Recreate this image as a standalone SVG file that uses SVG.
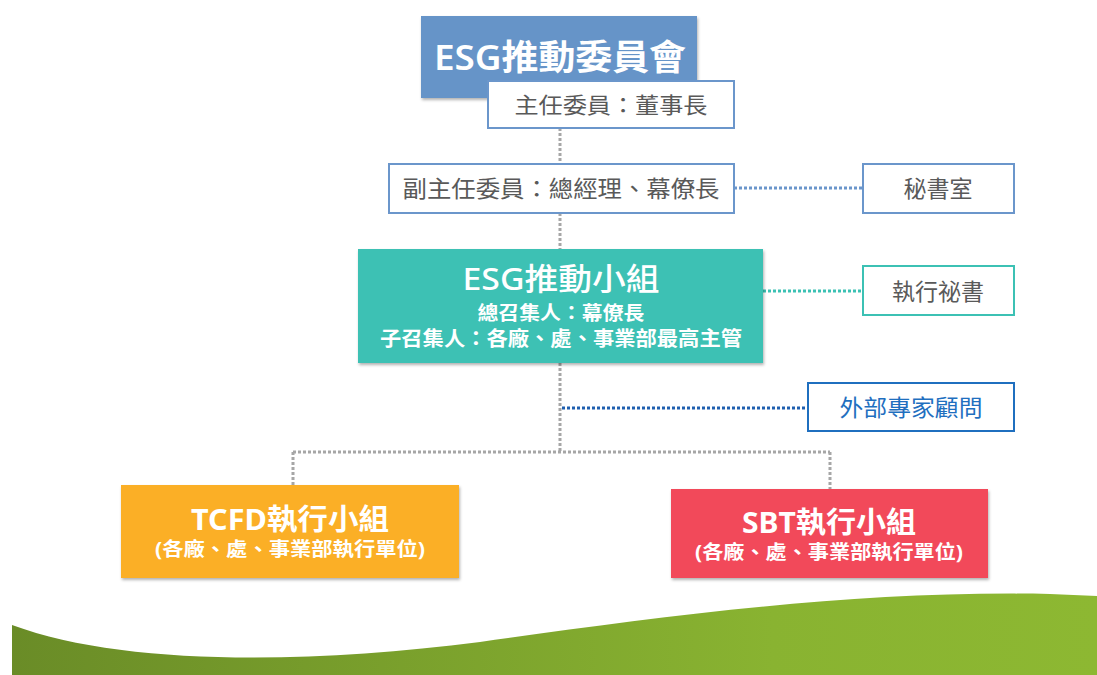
<svg xmlns="http://www.w3.org/2000/svg" width="1097" height="675" viewBox="0 0 1097 675">
<style>
text{font-family:"Noto Sans","Noto Sans CJK TC",sans-serif;text-anchor:middle}
.w{fill:#fff}
.g{fill:#595959}
.bold{font-weight:bold}
.conn{fill:none;stroke-width:3;stroke-dasharray:3 2}
.gray{stroke:#A6A6A6}
</style>
<defs>
<filter id="sh" x="-10%" y="-10%" width="120%" height="130%">
<feDropShadow dx="1" dy="2" stdDeviation="1.5" flood-color="#000" flood-opacity="0.3"/>
</filter>
<linearGradient id="gr" x1="0" y1="0" x2="1" y2="0">
<stop offset="0" stop-color="#6A8C27"/>
<stop offset="0.7" stop-color="#89B331"/>
<stop offset="1" stop-color="#8DB832"/>
</linearGradient>
</defs>
<path d="M12,625 C120,665 300,665 480,642 C650,618 850,590 1050,594 L1097,596 L1097,675 L12,675 Z" fill="url(#gr)"/>
<g id="connectors">
<path class="conn gray" d="M560,128 V163 M560,213 V249 M560,363 V452 M293,452 H830 M293,452 V485 M830,452 V489"/>
<path class="conn" stroke="#6B96CB" d="M734,188 H862"/>
<path class="conn" stroke="#3CC1B4" d="M763,291 H862"/>
<path class="conn" stroke="#1F5FAF" d="M562,408 H807"/>
</g>
<g id="committee">
<rect x="421" y="16" width="276" height="82" fill="#6694C8" filter="url(#sh)"/>
<text x="560" y="70" class="w" font-weight="600" font-size="35" textLength="252" lengthAdjust="spacingAndGlyphs">ESG推動委員會</text>
</g>
<g id="chair">
<rect x="488" y="81" width="246" height="47" fill="#fff" stroke="#6B96CB" stroke-width="2"/>
<text x="611" y="113" class="g" font-size="22" textLength="193" lengthAdjust="spacingAndGlyphs">主任委員：董事長</text>
</g>
<g id="vicechair">
<rect x="389" y="164" width="345" height="49" fill="#fff" stroke="#6B96CB" stroke-width="2"/>
<text x="561" y="197" class="g" font-size="23" textLength="317" lengthAdjust="spacingAndGlyphs">副主任委員：總經理、幕僚長</text>
</g>
<g id="secretariat">
<rect x="863" y="164" width="151" height="49" fill="#fff" stroke="#6B96CB" stroke-width="2"/>
<text x="938" y="197" class="g" font-size="23">秘書室</text>
</g>
<g id="taskforce">
<rect x="358" y="249" width="405" height="114" fill="#3CC1B4" filter="url(#sh)"/>
<text x="561" y="290" class="w" font-weight="500" font-size="31" textLength="197" lengthAdjust="spacingAndGlyphs">ESG推動小組</text>
<text x="561" y="320" class="w bold" font-size="19" textLength="167" lengthAdjust="spacingAndGlyphs">總召集人：幕僚長</text>
<text x="561" y="346" class="w bold" font-size="20" textLength="362" lengthAdjust="spacingAndGlyphs">子召集人：各廠、處、事業部最高主管</text>
</g>
<g id="execsecretary">
<rect x="863" y="266" width="151" height="49" fill="#fff" stroke="#3CC1B4" stroke-width="2"/>
<text x="938" y="300" class="g" font-size="23">執行祕書</text>
</g>
<g id="consultant">
<rect x="808" y="383" width="206" height="48" fill="#fff" stroke="#1F6FBF" stroke-width="2"/>
<text x="911" y="416" fill="#1F6FBF" font-size="23" textLength="143" lengthAdjust="spacingAndGlyphs">外部專家顧問</text>
</g>
<g id="tcfd">
<rect x="121" y="485" width="338" height="93" fill="#FBAF27" filter="url(#sh)"/>
<text x="290" y="530" class="w bold" font-size="29" textLength="198" lengthAdjust="spacingAndGlyphs">TCFD執行小組</text>
<text x="290" y="556" class="w bold" font-size="19" textLength="270" lengthAdjust="spacingAndGlyphs">(各廠、處、事業部執行單位)</text>
</g>
<g id="sbt">
<rect x="671" y="489" width="317" height="89" fill="#F2485A" filter="url(#sh)"/>
<text x="829" y="533" class="w bold" font-size="29" textLength="174" lengthAdjust="spacingAndGlyphs">SBT執行小組</text>
<text x="829" y="559" class="w bold" font-size="19" textLength="268" lengthAdjust="spacingAndGlyphs">(各廠、處、事業部執行單位)</text>
</g>
</svg>
